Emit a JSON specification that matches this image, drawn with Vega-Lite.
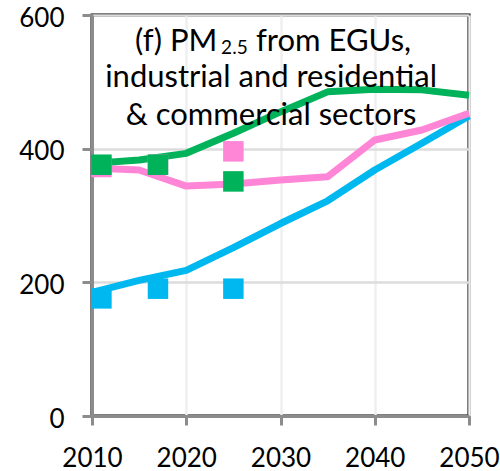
{
  "$schema": "https://vega.github.io/schema/vega-lite/v6.json",
  "width": 377,
  "height": 401,
  "autosize": "none",
  "padding": {"left": 92, "top": 15, "right": 31, "bottom": 55},
  "background": "#ffffff",
  "config": {
    "font": "Lato",
    "view": {"stroke": "#000000", "strokeWidth": 3},
    "axis": {
      "labelFont": "Lato",
      "labelFontSize": 26,
      "labelColor": "#000000",
      "domainColor": "#8c8c8c",
      "domainWidth": 3,
      "tickColor": "#8c8c8c",
      "tickWidth": 3,
      "gridWidth": 2.5,
      "title": null
    },
    "text": {"font": "Lato", "color": "#000000"}
  },
  "datasets": {
    "lines": [
      {"year": 2010, "series": "Series A", "value": 185},
      {"year": 2015, "series": "Series A", "value": 203},
      {"year": 2020, "series": "Series A", "value": 218},
      {"year": 2025, "series": "Series A", "value": 252},
      {"year": 2030, "series": "Series A", "value": 288},
      {"year": 2035, "series": "Series A", "value": 322},
      {"year": 2040, "series": "Series A", "value": 368},
      {"year": 2045, "series": "Series A", "value": 408},
      {"year": 2050, "series": "Series A", "value": 449},
      {"year": 2010, "series": "Series B", "value": 371},
      {"year": 2015, "series": "Series B", "value": 368},
      {"year": 2020, "series": "Series B", "value": 344},
      {"year": 2025, "series": "Series B", "value": 347},
      {"year": 2030, "series": "Series B", "value": 353},
      {"year": 2035, "series": "Series B", "value": 358},
      {"year": 2040, "series": "Series B", "value": 413},
      {"year": 2045, "series": "Series B", "value": 428},
      {"year": 2050, "series": "Series B", "value": 453},
      {"year": 2010, "series": "Series C", "value": 378},
      {"year": 2015, "series": "Series C", "value": 383},
      {"year": 2020, "series": "Series C", "value": 393},
      {"year": 2025, "series": "Series C", "value": 423},
      {"year": 2030, "series": "Series C", "value": 455},
      {"year": 2035, "series": "Series C", "value": 485},
      {"year": 2040, "series": "Series C", "value": 489},
      {"year": 2045, "series": "Series C", "value": 488},
      {"year": 2050, "series": "Series C", "value": 480}
    ],
    "observed": [
      {"year": 2011, "series": "Series A", "value": 176},
      {"year": 2017, "series": "Series A", "value": 190.5},
      {"year": 2025, "series": "Series A", "value": 190.5},
      {"year": 2011, "series": "Series B", "value": 372.5},
      {"year": 2017, "series": "Series B", "value": 376},
      {"year": 2025, "series": "Series B", "value": 396},
      {"year": 2011, "series": "Series C", "value": 376},
      {"year": 2017, "series": "Series C", "value": 376},
      {"year": 2025, "series": "Series C", "value": 351}
    ],
    "heading": [
      {"part": "lead", "label": "(f) PM"},
      {"part": "sub", "label": "2.5"},
      {"part": "tail", "label": "from EGUs,"},
      {"part": "second", "label": "industrial and residential"},
      {"part": "third", "label": "& commercial sectors"}
    ]
  },
  "layer": [
    {
      "data": {"name": "lines"},
      "mark": {"type": "line", "strokeWidth": 7, "strokeJoin": "round", "strokeCap": "butt"},
      "encoding": {
        "x": {
          "field": "year",
          "type": "quantitative",
          "scale": {"domain": [2010, 2050], "nice": false, "zero": false},
          "axis": {
            "values": [2010, 2020, 2030, 2040, 2050],
            "format": "d",
            "tickSize": 9,
            "labelPadding": 20,
            "labelFlush": false,
            "labelOverlap": false,
            "gridColor": "#efefef"
          }
        },
        "y": {
          "field": "value",
          "type": "quantitative",
          "scale": {"domain": [0, 600], "nice": false},
          "axis": {
            "values": [0, 200, 400, 600],
            "tickSize": 10,
            "labelPadding": 18,
            "labelOffset": 3,
            "labelFlush": false,
            "labelOverlap": false,
            "gridColor": "#dcdcdc"
          }
        },
        "color": {
          "field": "series",
          "type": "nominal",
          "scale": {
            "domain": ["Series A", "Series B", "Series C"],
            "range": ["#00B8F0", "#FF85D6", "#00B35A"]
          },
          "legend": null
        }
      }
    },
    {
      "data": {"name": "observed"},
      "mark": {"type": "square", "size": 420, "filled": true, "opacity": 1},
      "encoding": {
        "x": {"field": "year", "type": "quantitative"},
        "y": {"field": "value", "type": "quantitative"},
        "color": {"field": "series", "type": "nominal", "legend": null}
      }
    },
    {
      "data": {"name": "heading"},
      "transform": [{"filter": "datum.part === 'lead'"}],
      "mark": {"type": "text", "align": "right", "baseline": "alphabetic", "fontSize": 31},
      "encoding": {"x": {"datum": 2023.3}, "y": {"datum": 546}, "text": {"field": "label"}}
    },
    {
      "data": {"name": "heading"},
      "transform": [{"filter": "datum.part === 'sub'"}],
      "mark": {"type": "text", "align": "left", "baseline": "alphabetic", "fontSize": 19},
      "encoding": {"x": {"datum": 2023.7}, "y": {"datum": 542}, "text": {"field": "label"}}
    },
    {
      "data": {"name": "heading"},
      "transform": [{"filter": "datum.part === 'tail'"}],
      "mark": {"type": "text", "align": "left", "baseline": "alphabetic", "fontSize": 31},
      "encoding": {"x": {"datum": 2027.4}, "y": {"datum": 546}, "text": {"field": "label"}}
    },
    {
      "data": {"name": "heading"},
      "transform": [{"filter": "datum.part === 'second'"}],
      "mark": {"type": "text", "align": "center", "baseline": "alphabetic", "fontSize": 31},
      "encoding": {"x": {"datum": 2029.0}, "y": {"datum": 492}, "text": {"field": "label"}}
    },
    {
      "data": {"name": "heading"},
      "transform": [{"filter": "datum.part === 'third'"}],
      "mark": {"type": "text", "align": "center", "baseline": "alphabetic", "fontSize": 31},
      "encoding": {"x": {"datum": 2029.0}, "y": {"datum": 435}, "text": {"field": "label"}}
    }
  ]
}
